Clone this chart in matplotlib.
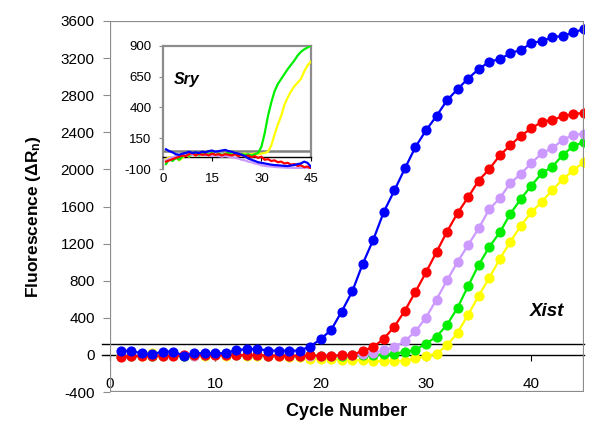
import matplotlib
matplotlib.use("Agg")
import matplotlib.pyplot as plt
from matplotlib.patches import Rectangle

plt.rcParams['font.family'] = ['Liberation Sans', 'DejaVu Sans']
plt.rcParams['mathtext.fontset'] = 'custom'
plt.rcParams['mathtext.rm'] = 'Liberation Sans:bold'
plt.rcParams['mathtext.bf'] = 'Liberation Sans:bold'
plt.rcParams['axes.unicode_minus'] = False

# --- Xist (main chart), cycles 1..45 ---
cycles = list(range(1, 46))
blue = [46, 41, 18, 7, 36, 36, -7, 18, 18, 18,
        18, 54, 61, 65, 46, 46, 46, 46, 90, 170,
        270, 468, 684, 983, 1243, 1543, 1773, 2011, 2241, 2421,
        2576, 2746, 2865, 2980, 3081, 3160, 3189, 3250, 3290, 3358,
        3387, 3423, 3441, 3477, 3513]
red = [-24, -15, -12, -10, -8, -8, -5, -5, -3, -5,
       0, -3, -5, -3, -8, -8, -8, -10, -5, -10,
       -8, -5, 0, 45, 85, 175, 305, 478, 680, 890,
       1110, 1330, 1530, 1699, 1880, 2002, 2150, 2259, 2363, 2441,
       2514, 2535, 2571, 2600, 2607]
purple = [-10, -8, -5, -5, -8, -5, -5, -8, -5, -5,
          -5, -3, -5, -5, -8, -5, -8, -10, -10, -8,
          -8, -5, -3, 10, 25, 50, 84, 149, 254, 402,
          597, 805, 1003, 1184, 1364, 1570, 1688, 1851, 1951, 2067,
          2175, 2229, 2319, 2373, 2384]
green = [-10, -8, -5, -15, -5, -3, -8, -5, -3, 5,
         10, -3, -5, -3, -8, -5, -8, -10, -5, -10,
         -10, -8, -5, -5, -5, 5, 15, 30, 56, 121,
         197, 325, 510, 742, 970, 1162, 1320, 1519, 1681, 1825,
         1959, 2030, 2157, 2254, 2294]
yellow = [-15, -10, -8, 20, -10, -5, -15, -10, -8, -5,
          -8, -5, -10, -8, -12, -15, -20, -25, -41, -40,
          -45, -50, -55, -60, -65, -67, -67, -67, -35, -16,
          15, 103, 240, 432, 637, 830, 1032, 1219, 1392, 1537,
          1652, 1778, 1894, 1994, 2078]
xist_threshold = 113

# --- Sry (inset), cycles 1..45 ---
sry_blue = [60, 45, 35, 20, 15, 25, 30, 40, 30, 35,
            30, 40, 35, 45, 50, 40, 45, 50, 55, 45,
            40, 30, 25, 15, 5, -15, -25, -35, -45, -50,
            -55, -60, -65, -68, -70, -72, -75, -76, -72, -68,
            -60, -55, -40, -50, -80]
sry_red = [-40, -30, -20, -10, 0, 10, 5, 20, 30, 10,
           25, 15, 20, 10, 25, 15, 20, 10, 20, 15,
           10, 20, 5, 15, 0, 10, -5, 5, -10, 0,
           -25, -20, -35, -30, -45, -40, -55, -50, -65, -60,
           -75, -70, -85, -80, -95]
sry_purple = [-30, -15, -5, 5, 10, 15, 10, 20, 15, 10,
              20, 15, 10, 15, 5, 10, 5, 0, 5, 0,
              -5, -10, -15, -25, -30, -40, -45, -55, -60, -70,
              -75, -78, -80, -83, -85, -87, -88, -90, -90, -92,
              -93, -93, -95, -95, -97]
sry_green = [-60, -20, -35, -10, -25, 0, 30, 5, 20, 35,
             10, 25, 15, 20, 30, 10, 25, 15, 20, 35,
             15, 25, 10, 20, 15, 20, 10, 20, 30, 80,
             190, 330, 440, 530, 590, 630, 670, 710, 745, 780,
             820, 850, 870, 885, 900]
sry_yellow = [-20, -5, -15, 5, -30, -10, 15, 0, 20, 5,
              25, 10, 30, 15, 25, 5, 20, 10, 25, 15,
              20, 25, 15, 20, 25, 15, 20, 25, 20, 25,
              30, 40, 90, 180, 260, 330, 420, 480, 530, 570,
              600, 630, 690, 740, 770]
sry_threshold = 45

series = [
    (yellow, sry_yellow, '#ffff00'),
    (green, sry_green, '#00ee00'),
    (purple, sry_purple, '#cc99ff'),
    (red, sry_red, '#ff0000'),
    (blue, sry_blue, '#0000ff'),
]

gray = '#8c8c8c'

fig = plt.figure(figsize=(6, 4.43), dpi=100)
ax = fig.add_axes([0.1833, 0.1151, 0.79, 0.8375])

for main_vals, _, col in series:
    ax.plot(cycles, main_vals, color=col, lw=1.6, marker='o', ms=6.3, mec=col, zorder=3)

ax.set_xlim(0, 45)
ax.set_ylim(-400, 3600)
ax.set_xticks([0, 10, 20, 30, 40])
ax.set_yticks(range(-400, 3601, 400))

for s in ['top', 'left', 'right']:
    ax.spines[s].set_visible(False)
ax.spines['bottom'].set_position(('data', 0))
ax.spines['bottom'].set_color('black')
ax.spines['bottom'].set_linewidth(1)
ax.add_patch(Rectangle((0, 0), 1, 1, transform=ax.transAxes, fill=False,
                       ec=gray, lw=1.6, zorder=4))
ax.axhline(0, xmin=-0.017, xmax=0, color='black', lw=1, clip_on=False)
ax.axhline(xist_threshold, xmin=-0.017, xmax=1, color='black', lw=1, clip_on=False, zorder=2)

ax.tick_params(axis='x', direction='out', length=4, pad=12, labelsize=11, color='black')
ax.tick_params(axis='y', direction='out', length=5, pad=6, labelsize=11, color=gray)

ax.set_xlabel('Cycle Number', fontsize=13, fontweight='bold')
ax.xaxis.set_label_coords(0.5, -0.03)
ax.set_ylabel('Fluorescence (ΔR$\\mathrm{_n}$)', fontsize=12.5, fontweight='bold')
ax.yaxis.set_label_coords(-0.141, 0.472)

ax.text(41.5, 469, 'Xist', fontsize=13.5, fontweight='bold', style='italic',
        ha='center', va='center')

# inset
ins = fig.add_axes([0.2712, 0.6185, 0.2467, 0.2783])
for _, sry_vals, col in series:
    ins.plot(cycles, sry_vals, color=col, lw=1.6, zorder=3)
ins.set_xlim(0, 45)
ins.set_ylim(-100, 900)
ins.set_xticks([0, 15, 30, 45])
ins.set_yticks([-100, 150, 400, 650, 900])
ins.spines['bottom'].set_position(('data', 0))
ins.spines['bottom'].set_color('black')
ins.spines['bottom'].set_linewidth(1)
for s in ['top', 'left', 'right']:
    ins.spines[s].set_color(gray)
    ins.spines[s].set_linewidth(1.6)
ins.spines['right'].set_bounds(0, 900)
ins.axhline(sry_threshold, color='#808080', lw=1.8, zorder=2)
ins.tick_params(axis='x', direction='out', length=3, pad=9, labelsize=9.5)
ins.tick_params(axis='y', direction='out', length=3, pad=5, labelsize=9.5, color=gray)
ins.text(7.4, 630, 'Sry', fontsize=11.5, fontweight='bold', style='italic',
         ha='center', va='center')

fig.savefig('out.png', dpi=100)
